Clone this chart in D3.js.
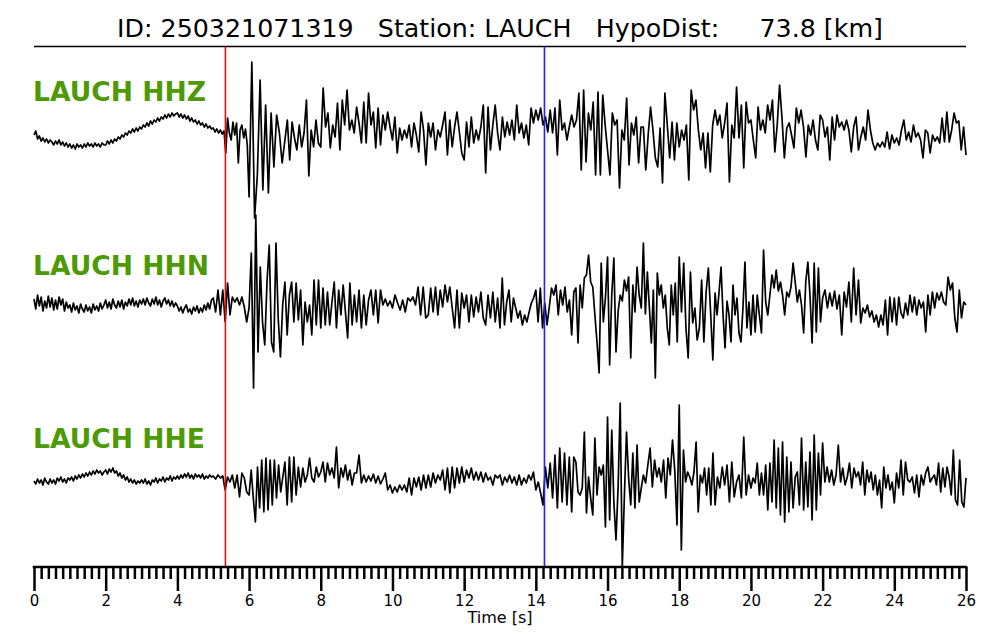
<!DOCTYPE html>
<html><head><meta charset="utf-8">
<script src="https://cdn.jsdelivr.net/npm/d3@7"></script>
<style>body{margin:0;background:#fff}svg{display:block}</style>
</head><body>
<script>
// ---------- data ----------
const titleText = "ID: 250321071319   Station: LAUCH   HypoDist:     73.8 [km]";
const channels = ["LAUCH HHZ", "LAUCH HHN", "LAUCH HHE"];
const pickP = 5.34;   // s (red)
const pickS = 14.24;  // s (blue)
const timeMax = 26;
const majorTicks = [0,2,4,6,8,10,12,14,16,18,20,22,24,26];
const minorStep = 0.2;
const xLabel = "Time [s]";

// amplitudes (arbitrary counts), one row per second, samples evenly spaced in that second
const hhz = [
[0,4,-4,-1,-6,-3,-7,-4,-8,-5,-7,-10,-6,-9,-5,-10,-7,-11,-8,-12],
[-9,-13,-10,-14,-9,-12,-10,-13,-9,-12,-8,-11,-9,-12,-8,-11,-9,-12,-8,-10],
[-10,-6,-9,-5,-8,-4,-6,-2,-4,0,-2,2,0,4,2,6,3,7,4,8],
[6,10,8,12,9,14,11,15,13,17,14,18,16,20,17,21,18,22,19,21],
[22,18,21,17,20,16,19,14,17,13,15,11,14,10,12,8,11,7,9,6],
[7,3,6,2,5,1,4,-18,17,2,-5,13,0,12,-28,5,10,-3,6,-10],
[-62,73,-83,-40,55,-55,30,-58,22,-32,20,2,-28],
[-5,15,-25,13,-3,-15,10,-12,2,35,-41,5,-12,15,-8],
[-12,47,8,22,-13,10,-2,32,-15,35,10,45,5,15,2],
[28,12,-8,33,-8,42,10,23,-13,27,-10,20,5,23,8],
[-5,18,-18,7,-5,5,-3,10,-12,12,0,-17,23,5,-30],
[12,-2,12,-15,5,-2,10,23,-20,15,-12,8,23,3,-18],
[-25,13,-12,18,-8,5,-5,8,30,-38,28,-15,10,30,2],
[-15,18,-2,13,0,15,-5,30,2,12,-3,10,-10,27,12],
[25,15,27,10,18,3,25,2,27,-20,35,5,12,-5,8],
[20,8,15,42,-35,45,-27,22,5,33,-40,43,-40,40,10],
[-15,-40,22,10,15,-53,5,-5,37,-30,12,0,18,-28,8],
[8,-35,0,28,5,-23,-32,7,-48,42,10,-23,13,-25,12],
[-12,5,-5,10,-45,45,25,35,5,-15,2,-33,2,-37,10],
[25,10,20,-3,12,32,-47,10,-3,48,-3,30,-33,33,12],
[15,-5,-23,28,5,15,2,30,15,35,-17,10,50,17,-23],
[7,12,0,-13,27,12,25,8,-22,10,0,15,-5,-15,20],
[15,-2,8,-25,18,-5,20,8,13,5,15,5,-17,8,18],
[-15,-2,8,-5,25,5,-8,-15,-8,-12,-7,-12,3,-14,0],
[-8,-3,-10,5,15,-5,3,-7,10,-2,2,-5,-23,5,2],
[-18,0,-6,-2,-8,17,-7,23,-7,5,22,12,14,-15,8]
];
const hhzEnd = -20;

const hhn = [
[4,-6,8,-3,6,-8,2,-5,7,-4,5,-7,3,-6,6,-2,4,-8,1,-5],
[-2,-9,0,-7,-3,-10,-1,-6,-9,-2,-8,-4,-10,-1,-7,-3,-8,0,-6,-2],
[3,-5,1,-6,4,-2,-5,2,-4,3,-6,1,-3,4,-2,5,-3,2,-4,3],
[-1,4,-2,5,0,-3,4,-1,6,-2,3,-4,2,5,-1,3,-3,2,-4,0],
[-3,-8,-4,-10,-5,-2,-9,-6,-11,-4,-8,-3,-10,-5,-9,-2,-7,0,-6,3],
[5,-9,13,-12,13,-19,20,-12,6,1,5,-2,6,-4,-19],
[-5,50,-85,88,-49,36,-19,-42,21,58,-39,-49,60,-15,-54,-2],
[21,-32,8,21,-19,20,-17,13,-42,1,-19,-2,-32,23,-22,23],
[-25,15,-22,11,-22,1,21,-25,13,-12,18,-9,-35,20,-22,8],
[-19,13,-25,8,-22,3,13,-12,13,-20,13,-2,4,-3,2],
[-5,8,0,-7,3,-9,5,2,6,-2,16,-12,16,-15],
[-12,15,-9,16,-12,13,-4,18,1,16,-5,-25,13,-25,10],
[-5,8,-19,8,-14,6,-9,11,-15,-22,8,-15,11,-19,5],
[-25,25,-22,1,13,-19,5,-5,-15,-8,-22,-12,-19,-9,0,5],
[13,-19,15,-25,0,-22,-4,15,8,18,-12,13,-2,16,-9,3],
[-32,11,15,-40,18,-5,25,28,48,21,16,-12,-39,-70,40,-19,5],
[46,-62,8,45,-49,-9,8,2,23,12,26,-55,18,-9,36,8,-5],
[60,-11,31,-4,-40,13,-75,30,8,18,-5,8,-25,-42,18,-12,20,-39],
[46,-9,40,-25,-55,31,-20,-5,-37,-25,23,-39,11,35,-9,-57],
[10,-12,11,36,-12,-45,2,-12,-39,18,-12,5,-30,-39,-5,41,-25,1],
[-32,8,-29,8,-12,-30,53,1,-12,8,28,15,33,12,21,8,-12],
[11,6,16,40,21,1,13,-2,-30,21,41,8,-40,40,-29,35,-19],
[5,13,-5,10,-3,12,-6,8,-32,11,-4,21,-19,35,-12],
[23,-20,-5,-10,-2,-14,-8,-19,-12,-24,-12,-22,3,-32,6,-19],
[5,-22,6,-10,-15,0,-12,8,-9,6,-12,3,-5,1,-29,8],
[-12,11,-5,10,3,11,1,-2,26,13,20,-15,-29,13,-15,1]
];
const hhnEnd = -2;

const hhe = [
[-1,-4,1,-3,0,-5,2,-2,-4,1,-3,0,-4,2,-1,3,-2,1,-3,2],
[0,3,-1,4,1,5,2,6,3,7,4,8,5,9,6,10,7,9,5,8],
[10,6,11,8,12,7,9,4,7,2,5,0,3,-2,1,-3,0,-4,-1,-3],
[0,-3,1,-4,-1,-5,0,-2,2,-3,1,-1,3,-2,2,0,4,-1,3,1],
[4,1,5,2,6,3,7,2,5,1,6,3,5,2,6,1,4,2,5,3],
[4,1,5,2,4,-10,3,-2,5,-8,5,-17,7,2,-12],
[-15,10,-18,-42,13,-28,20,-32,22,-30,20,-25,20,-18,15,-12,3],
[18,-25,23,-22,23,-15,13,-7,12,-2,5,22,2,-2,13,3],
[8,18,-2,17,5,12,2,33,-8,12,3,15,0,10,-5,7],
[7,25,-3,5,-2,4,-1,6,-3,4,-4,1,7,-10,-5],
[-13,-7,-12,-5,-10,-5,-12,2,-15,2,-7,3,-10,5,-8],
[5,-7,7,-3,5,0,10,-10,12,-13,13,-8,12,-3,13],
[-2,10,2,12,0,8,0,8,-2,7,0,3,-5,5,2],
[5,-5,3,-2,5,-3,3,-5,5,-5,2,-3,5,0,8],
[-10,-2,-13,-25,13,-8,17,-18,25,-28,32,-22,27,-25,23],
[-32,23,18,-12,-15,-8,48,-33,3,-18,-35,42,-15,13,5,15,-47],
[63,-40,50,-22,-60,-8,77,-87,-15,48,2,-25,27,-28,35,-22,-8],
[5,-3,15,32,-7,20,3,12,-2,20,-18,22,5,40,10,-45],
[75,-70,30,-2,8,3,-5,8,38,-32,5,-3,12,-15,12,-25,27],
[-25,3,-8,13,-5,15,-22,18,-17,-2,5,-18,43,-15,5],
[-8,2,-3,17,-15,7,-15,15,-30,17,-22,40,-28,32,-35,38,-42],
[23,-32,18,-28,3,8,-25,42,-30,18,-27,28,-40,45,-30,27,-15],
[37,-2,13,-2,10,-5,5,35,-2,12,-5,3,17,-8,12,3],
[8,-5,18,-15,10,-2,8,-10,5,-15,0,-28,13,-8,5,-10,-2],
[-23,7,-8,20,-15,18,0,-2,3,-13,5,-17,5,-5,7,13],
[-2,2,5,-5,17,-12,12,-7,13,3,-15,30,-20,-25,20,-22,-27]
];
const hheEnd = 2;

// ---------- drawing ----------
const W = 1000, H = 640;
const svg = d3.select("body").append("svg").attr("width", W).attr("height", H);

const x = d3.scaleLinear().domain([0, timeMax]).range([34, 966]);
const axisY = 567, topY = 46.5;

function toPoints(rows, endVal) {
  const pts = [];
  rows.forEach((row, k) => row.forEach((v, j) => pts.push([k + j / row.length, v])));
  pts.push([timeMax, endVal]);
  return pts;
}

const traces = [
  {data: toPoints(hhz, hhzEnd), base: 135, labelY: 101},
  {data: toPoints(hhn, hhnEnd), base: 303, labelY: 275},
  {data: toPoints(hhe, hheEnd), base: 480, labelY: 448}
];

// title
svg.append("text")
  .attr("x", 500).attr("y", 37)
  .attr("text-anchor", "middle")
  .attr("xml:space", "preserve")
  .style("white-space", "pre")
  .style("font-family", "DejaVu Sans")
  .style("font-size", "25.3px")
  .attr("fill", "#000")
  .text(titleText);

svg.append("line")
  .attr("x1", x(0)).attr("x2", x(timeMax))
  .attr("y1", topY).attr("y2", topY)
  .attr("stroke", "#000").attr("stroke-width", 1.3);

// traces
traces.forEach((tr, i) => {
  const y = d3.scaleLinear().domain([-100, 100]).range([tr.base + 100, tr.base - 100]);
  const line = d3.line().x(d => x(d[0])).y(d => y(d[1]));
  svg.append("path")
    .attr("d", line(tr.data))
    .attr("fill", "none")
    .attr("stroke", "#000")
    .attr("stroke-width", 1.7)
    .attr("stroke-linejoin", "round");
  svg.append("text")
    .attr("x", 33).attr("y", tr.labelY)
    .style("font-family", "DejaVu Sans")
    .style("font-weight", "bold")
    .style("font-size", "26.6px")
    .attr("fill", "#4e9a06")
    .text(channels[i]);
});

// picks
svg.append("line")
  .attr("x1", x(pickP)).attr("x2", x(pickP))
  .attr("y1", topY).attr("y2", axisY)
  .attr("stroke", "#ff0000").attr("stroke-width", 1.5);
svg.append("line")
  .attr("x1", x(pickS)).attr("x2", x(pickS))
  .attr("y1", topY).attr("y2", axisY)
  .attr("stroke", "#2222ff").attr("stroke-width", 1.6);

// axis
const minorTicks = d3.range(0, timeMax + 1e-9, minorStep).filter(v => Math.abs(v / 2 - Math.round(v / 2)) > 1e-6);
const gMinor = svg.append("g").attr("transform", `translate(0,${axisY})`)
  .call(d3.axisBottom(x).tickValues(minorTicks).tickSize(12).tickFormat(""));
const gMajor = svg.append("g").attr("transform", `translate(0,${axisY})`)
  .call(d3.axisBottom(x).tickValues(majorTicks).tickSize(24).tickPadding(4).tickFormat(d3.format("d")));
[gMinor, gMajor].forEach(g => {
  g.select(".domain").remove();
  g.selectAll(".tick line").attr("stroke", "#000").attr("stroke-width", 2.5);
});
gMajor.selectAll(".tick text")
  .style("font-family", "DejaVu Sans").style("font-size", "15px").attr("fill", "#000");
svg.append("line")
  .attr("x1", x(0) - 1.25).attr("x2", x(timeMax) + 1.25)
  .attr("y1", axisY).attr("y2", axisY)
  .attr("stroke", "#000").attr("stroke-width", 2.5);

svg.append("text")
  .attr("x", x(timeMax / 2)).attr("y", 623)
  .attr("text-anchor", "middle")
  .style("font-family", "DejaVu Sans").style("font-size", "16px")
  .attr("fill", "#000")
  .text(xLabel);
</script>
</body></html>
